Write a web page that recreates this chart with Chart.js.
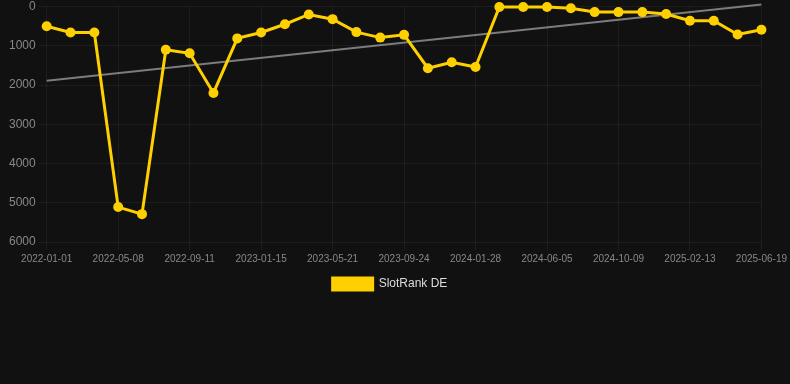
<!DOCTYPE html>
<html>
<head>
<meta charset="utf-8">
<script src="https://cdn.jsdelivr.net/npm/chart.js@4/dist/chart.umd.min.js"></script>
<style>
  html, body { margin: 0; padding: 0; background: #111111; }
  #wrap { position: relative; width: 790px; height: 300px; }
</style>
</head>
<body>
<div id="wrap"><canvas id="c"></canvas></div>
<script>
const labels = [
  "2022-01-01","2022-02-12","2022-03-26","2022-05-08","2022-06-19","2022-07-31",
  "2022-09-11","2022-10-23","2022-12-04","2023-01-15","2023-02-26","2023-04-09",
  "2023-05-21","2023-07-02","2023-08-13","2023-09-24","2023-11-05","2023-12-17",
  "2024-01-28","2024-03-11","2024-04-23","2024-06-05","2024-07-17","2024-08-28",
  "2024-10-09","2024-11-20","2025-01-01","2025-02-13","2025-03-27","2025-05-08",
  "2025-06-19"
];
const rankDE = [
  500, 660, 660, 5110, 5290, 1100,
  1190, 2200, 810, 660, 450, 200,
  320, 650, 790, 720, 1570, 1420,
  1540, 10, 10, 10, 40, 140,
  140, 140, 190, 360, 360, 710,
  590
];
const trendStart = 1890;
const trendEnd = -55;
const trend = labels.map((_, i) => i === 0 ? trendStart : (i === labels.length - 1 ? trendEnd : null));
const yTicks = [0, 1000, 2000, 3000, 4000, 5000, 6000];

new Chart(document.getElementById('c'), {
  type: 'line',
  data: {
    labels: labels,
    datasets: [
      {
        label: 'SlotRank DE',
        data: rankDE,
        borderColor: '#FFD000',
        backgroundColor: '#FFD000',
        borderWidth: 3,
        pointRadius: 5,
        pointHoverRadius: 5,
        pointBackgroundColor: '#FFD000',
        pointBorderWidth: 0,
        tension: 0,
        clip: false
      },
      {
        label: 'trend',
        data: trend,
        spanGaps: true,
        borderColor: 'rgba(160,160,160,0.75)',
        borderWidth: 2,
        pointRadius: 0,
        tension: 0,
        clip: false
      }
    ]
  },
  options: {
    responsive: true,
    maintainAspectRatio: false,
    animation: false,
    layout: { padding: { left: 6, right: 16, top: -14, bottom: 0 } },
    plugins: {
      legend: {
        position: 'bottom',
        labels: {
          color: '#dddddd',
          font: { family: 'Liberation Sans, Arial, sans-serif', size: 12 },
          boxWidth: 40,
          boxHeight: 12,
          filter: (item) => item.text !== 'trend'
        }
      },
      tooltip: { enabled: false }
    },
    scales: {
      x: {
        offset: false,
        grid: { color: 'rgba(255,255,255,0.05)', drawTicks: true, tickLength: 8 },
        border: { display: false },
        ticks: {
          color: '#888888',
          font: { family: 'Liberation Sans, Arial, sans-serif', size: 10 },
          autoSkip: false,
          maxRotation: 0,
          padding: 3,
          callback: function(v, i) { return i % 3 === 0 ? labels[i] : null; }
        }
      },
      y: {
        reverse: true,
        min: 0,
        max: 6000,
        afterBuildTicks: (axis) => { axis.ticks = yTicks.map(v => ({ value: v })); },
        grid: { color: 'rgba(255,255,255,0.05)', drawTicks: true, tickLength: 8 },
        border: { display: false },
        ticks: {
          color: '#888888',
          font: { family: 'Liberation Sans, Arial, sans-serif', size: 12, lineHeight: 0.6 },
          padding: 3,
          callback: (v) => String(v)
        }
      }
    }
  }
});
</script>
</body>
</html>
